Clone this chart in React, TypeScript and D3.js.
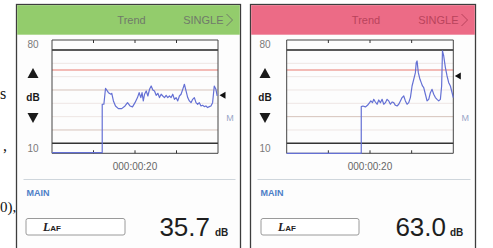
import React from "react";
import * as d3 from "d3";

// ---- data ----
const yAxisLabels = ["80", "10"];
const yDomain = [10, 80];
const timeDomain = [0, 40];
const timeTicks = [10, 20, 30];
const centerTimeLabel = "000:00:20";
const gridLevels = [20, 30, 40, 50, 60, 70];
const thresholdLevel = 65;

const leftTimes = [0, 12.1, 12.1, 12.5, 12.9, 13.6, 14.2, 14.4, 14.8, 15.3, 16.0, 16.8, 17.6, 18.2, 18.8, 19.4, 20.0, 20.6, 21.0, 21.4, 21.7, 22.0, 22.3, 22.7, 23.1, 23.5, 23.9, 24.3, 24.7, 25.1, 25.5, 25.9, 26.3, 26.7, 27.1, 27.5, 27.9, 28.3, 28.7, 29.1, 29.5, 29.9, 30.3, 30.7, 31.1, 31.5, 31.9, 32.3, 32.7, 33.1, 33.5, 33.9, 34.3, 34.7, 35.1, 35.5, 35.9, 36.3, 36.7, 37.1, 37.5, 37.9, 38.3, 38.7, 39.1, 39.5, 39.8];
const leftLevels = [3, 3, 39.3, 39.3, 51.3, 48, 46.8, 47.5, 41.8, 38, 36, 36, 38, 40.5, 38, 37.3, 40.5, 44.3, 48, 44.3, 48, 41.8, 46.8, 49.3, 45.5, 50.5, 53, 50, 49.3, 46, 47.5, 44.3, 46.8, 45.5, 44.3, 46, 44.3, 45.5, 44.3, 46.8, 43, 44.3, 41.8, 45.5, 46.8, 50.5, 54.3, 49.3, 44.3, 41.8, 40.5, 43, 44.3, 40.5, 39.3, 40.5, 38, 38.5, 37.5, 38, 36.8, 37.5, 38, 40.5, 53, 50.5, 45.5];

const rightTimes = [0, 17.9, 17.9, 18.3, 18.9, 19.4, 19.9, 20.2, 20.6, 20.9, 21.3, 21.7, 22.1, 22.5, 22.9, 23.3, 23.7, 24.1, 24.5, 24.9, 25.3, 25.7, 26.1, 26.5, 26.9, 27.3, 27.7, 28.1, 28.5, 28.9, 29.3, 29.7, 30.1, 30.5, 30.9, 31.1, 31.3, 31.6, 32.0, 32.3, 32.6, 32.9, 33.3, 33.7, 34.1, 34.5, 34.9, 35.3, 35.7, 36.1, 36.5, 36.9, 37.2, 37.4, 37.7, 38.1, 38.5, 38.9, 39.3, 39.8, 40.0];
const rightLevels = [2.5, 2.5, 37.5, 38, 37.3, 38.5, 40.5, 41.8, 40.5, 43, 41, 39.3, 42.5, 40.5, 43, 39.3, 40.5, 43, 41.8, 39.3, 41, 40.5, 38.5, 38, 39.3, 41.8, 44.3, 45.5, 41.8, 39.3, 40.5, 44.3, 53, 58, 63, 70.5, 71.8, 63, 58, 55.5, 53, 51.8, 46.8, 41.8, 43, 48, 50.5, 46.8, 44.3, 43, 41.8, 43, 53, 79.3, 75.5, 66.8, 60.5, 55.5, 53, 46.8, 44.3];

const panelTitles = ["Trend", "Trend"];
const modeLabels = ["SINGLE", "SINGLE"];
const sectionLabel = "MAIN";
const readings = ["35.7", "63.0"];
const markerLevels = [46, 60.5];
const unitLabel = "dB";

// ---- layout ----
const W = 493;
const H = 248;

type PanelCfg = {
  left: number;
  right: number;
  frameL: number;
  frameR: number;
  header: string;
  headerText: string;
  labelX: number;
  boxL: number;
  boxR: number;
  valueRight: number;
  unitX: number;
  times: number[];
  levels: number[];
  emphasis: number[];
  idx: number;
};

const panels: PanelCfg[] = [
  {
    left: 16.5, right: 240.5, frameL: 52, frameR: 218, header: "#93cc6c", headerText: "#707a6a",
    labelX: 33, boxL: 26, boxR: 125, valueRight: 210, unitX: 215,
    times: leftTimes, levels: leftLevels, emphasis: [20, 50], idx: 0,
  },
  {
    left: 250.5, right: 475.5, frameL: 286.7, frameR: 453.3, header: "#ec6b86", headerText: "#b9435c",
    labelX: 265, boxL: 261, boxR: 359, valueRight: 446, unitX: 450,
    times: rightTimes, levels: rightLevels, emphasis: [30], idx: 1,
  },
];

const FONT = "'Liberation Sans', Arial, sans-serif";

function Panel({ p }: { p: PanelCfg }) {
  const top = 40;
  const bottom = 153.3;
  const x = d3.scaleLinear().domain(timeDomain).range([p.frameL, p.frameR]);
  const y = d3.scaleLinear().domain(yDomain).range([143.3, 50]);
  const line = d3
    .line<number>()
    .x((_, i) => x(p.times[i]))
    .y((d) => y(d));
  const path = line(p.levels) || "";
  const mY = y(markerLevels[p.idx]);
  const mX = p.frameR + 1.5;
  const midX = (p.frameL + p.frameR) / 2;
  const panelMid = (p.left + p.right) / 2;

  return (
    <g>
      {/* panel border */}
      <rect x={p.left} y={4.5} width={p.right - p.left} height={H + 10} fill="#fdfdfd" stroke="#3d3d3d" strokeWidth={1.3} />
      <rect x={p.left + 0.7} y={5.2} width={p.right - p.left - 1.4} height={29.5} fill={p.header} />
      <text x={panelMid + 3} y={24} fontFamily={FONT} fontSize={11} fill={p.headerText} textAnchor="middle">
        {panelTitles[p.idx]}
      </text>
      <text x={p.right - 17} y={24} fontFamily={FONT} fontSize={11} fill={p.headerText} textAnchor="end">
        {modeLabels[p.idx]}
      </text>
      <path d={`M${p.right - 14},14 L${p.right - 8},20 L${p.right - 14},26`} fill="none" stroke={p.headerText} strokeWidth={1} />

      {/* grid */}
      {gridLevels.map((g) => (
        <line key={g} x1={p.frameL} x2={p.frameR} y1={y(g)} y2={y(g)}
          stroke={p.emphasis.includes(g) ? "#d6c3bb" : "#eee6e4"} strokeWidth={1} />
      ))}
      <line x1={p.frameL} x2={p.frameR} y1={y(thresholdLevel)} y2={y(thresholdLevel)} stroke="#ea7a70" strokeWidth={1.2} />

      {/* frame */}
      <line x1={p.frameL} x2={p.frameR} y1={top} y2={top} stroke="#444" strokeWidth={1} />
      <line x1={p.frameL} x2={p.frameR} y1={bottom} y2={bottom} stroke="#444" strokeWidth={1} />
      <line x1={p.frameL} x2={p.frameR} y1={y(80)} y2={y(80)} stroke="#222" strokeWidth={1.6} />
      <line x1={p.frameL} x2={p.frameR} y1={y(10)} y2={y(10)} stroke="#333" strokeWidth={1.6} />
      <line x1={p.frameL} x2={p.frameL} y1={top} y2={bottom} stroke="#444" strokeWidth={1} />
      <line x1={p.frameR} x2={p.frameR} y1={top} y2={bottom} stroke="#444" strokeWidth={1} />
      {timeTicks.map((t) => (
        <g key={t}>
          <line x1={x(t)} x2={x(t)} y1={top} y2={top + 3} stroke="#333" strokeWidth={1} />
          <line x1={x(t)} x2={x(t)} y1={bottom - 3} y2={bottom} stroke="#333" strokeWidth={1} />
        </g>
      ))}

      {/* trace */}
      <path d={path} fill="none" stroke="#6470d4" strokeWidth={1.2} strokeLinejoin="round" />

      {/* level marker */}
      <path d={`M${mX},${mY} L${mX + 6},${mY - 3.5} L${mX + 6},${mY + 3.5} Z`} fill="#111" />
      <text x={p.frameR + 12} y={121} fontFamily={FONT} fontSize={9} fill="#9aa6c8" textAnchor="middle">M</text>

      {/* y labels */}
      <text x={p.labelX} y={48} fontFamily={FONT} fontSize={10} fill="#7a7a7a" textAnchor="middle">{yAxisLabels[0]}</text>
      <path d={`M${p.labelX},${68} L${p.labelX + 5.5},${78} L${p.labelX - 5.5},${78} Z`} fill="#1a1a1a" />
      <text x={p.labelX} y={101} fontFamily={FONT} fontSize={10} fontWeight="bold" fill="#1a1a1a" textAnchor="middle">{unitLabel}</text>
      <path d={`M${p.labelX - 5.5},${113} L${p.labelX + 5.5},${113} L${p.labelX},${123} Z`} fill="#1a1a1a" />
      <text x={p.labelX} y={152} fontFamily={FONT} fontSize={10} fill="#7a7a7a" textAnchor="middle">{yAxisLabels[1]}</text>

      <text x={midX} y={170} fontFamily={FONT} fontSize={10} fill="#666" textAnchor="middle">{centerTimeLabel}</text>

      <line x1={p.left + 7} x2={p.right - 5} y1={179.5} y2={179.5} stroke="#cfd6dc" strokeWidth={1} />

      <text x={p.left + 10} y={196} fontFamily={FONT} fontSize={9} fontWeight="bold" fill="#4d7dc7">{sectionLabel}</text>

      <rect x={p.boxL} y={218.5} width={p.boxR - p.boxL} height={16.5} rx={2} fill="#fff" stroke="#9a9a9a" strokeWidth={1} />
      <text x={p.boxL + 17} y={231} fontFamily="'Liberation Serif', serif" fontSize={12} fontStyle="italic" fontWeight="bold" fill="#222">
        L<tspan fontSize={8} fontStyle="normal" fontFamily={FONT}>AF</tspan>
      </text>

      <text x={p.valueRight} y={236} fontFamily={FONT} fontSize={26} fill="#1e1e1e" textAnchor="end">{readings[p.idx]}</text>
      <text x={p.unitX} y={236} fontFamily={FONT} fontSize={10} fontWeight="bold" fill="#222">{unitLabel}</text>
    </g>
  );
}

export default function App() {
  return (
    <svg
      width={W}
      height={H}
      viewBox={`0 0 ${W} ${H}`}
      style={{ position: "fixed", left: 0, top: 0, background: "#fff" }}
    >
      <rect x={0} y={0} width={W} height={H} fill="#fff" />
      {/* stray document text at the left edge */}
      <text x={0} y={99} fontFamily="'Liberation Serif', serif" fontSize={16} fill="#111">s</text>
      <text x={3} y={151} fontFamily="'Liberation Serif', serif" fontSize={16} fill="#111">,</text>
      <text x={0} y={212} fontFamily="'Liberation Serif', serif" fontSize={15} fill="#111">0),</text>
      {panels.map((p) => (
        <Panel key={p.idx} p={p} />
      ))}
    </svg>
  );
}
